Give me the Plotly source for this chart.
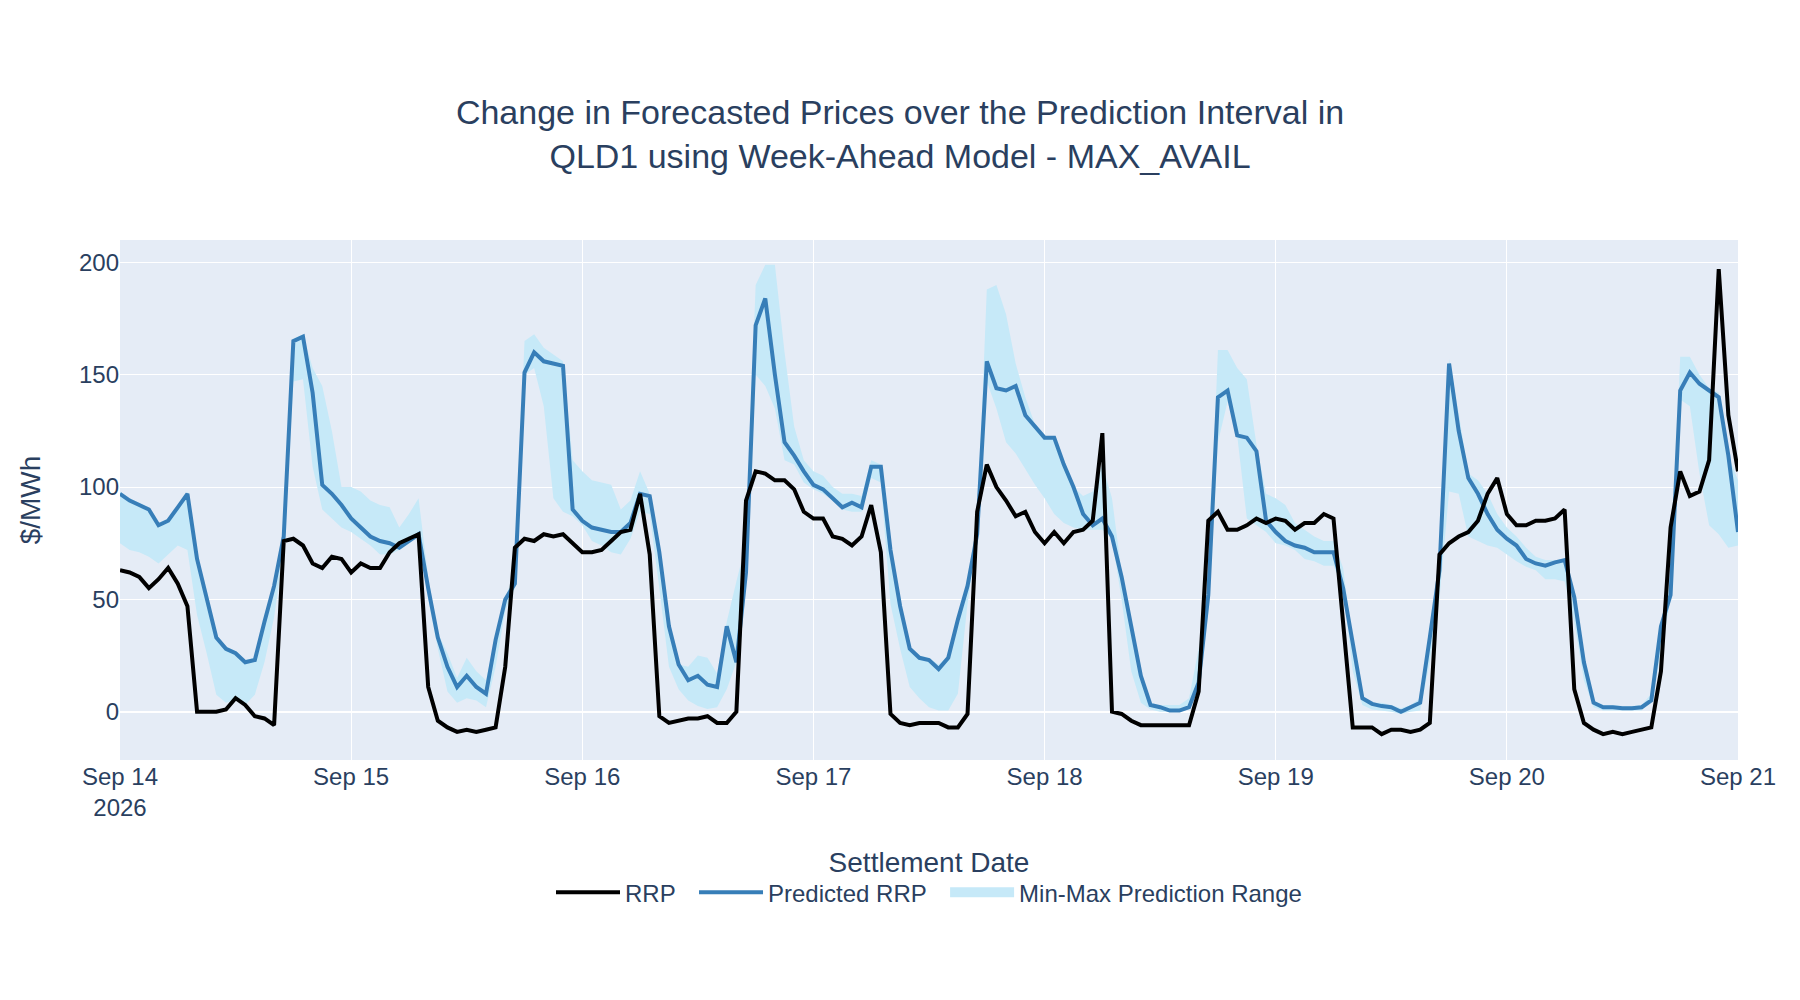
import plotly.graph_objects as go
import pandas as pd

# hourly settlement times, Sep 14 00:00 -> Sep 21 00:00
times = pd.date_range("2026-09-14 00:00", "2026-09-21 00:00", freq="h")

rrp = [
    63, 62, 60, 55, 59, 64, 57, 47, 0, 0, 0, 1, 6, 3, -2, -3, -6, 76, 77, 74, 66, 64, 69, 68,
    62, 66, 64, 64, 71, 75, 77, 79, 11, -4, -7, -9, -8, -9, -8, -7, 20, 73, 77, 76, 79, 78, 79, 75,
    71, 71, 72, 76, 80, 81, 97, 70, -2, -5, -4, -3, -3, -2, -5, -5, 0, 94, 107, 106, 103, 103, 99, 89,
    86, 86, 78, 77, 74, 78, 92, 71, -1, -5, -6, -5, -5, -5, -7, -7, -1, 89, 110, 100, 94, 87, 89, 80,
    75, 80, 75, 80, 81, 85, 124, 0, -1, -4, -6, -6, -6, -6, -6, -6, 9, 85, 89, 81, 81, 83, 86, 84,
    86, 85, 81, 84, 84, 88, 86, 38, -7, -7, -7, -10, -8, -8, -9, -8, -5, 70, 75, 78, 80, 85, 97, 104,
    88, 83, 83, 85, 85, 86, 90, 10, -5, -8, -10, -9, -10, -9, -8, -7, 18, 82, 107, 96, 98, 112, 197, 132,
    107,
]

predicted_rrp = [
    97, 94, 92, 90, 83, 85, 91, 97, 68, 50, 33, 28, 26, 22, 23, 40, 56, 78, 165, 167, 142, 101, 97, 92,
    86, 82, 78, 76, 75, 73, 76, 79, 55, 33, 20, 11, 16, 11, 8, 32, 50, 57, 151, 160, 156, 155, 154, 90,
    85, 82, 81, 80, 80, 84, 97, 96, 71, 38, 21, 14, 16, 12, 11, 38, 22, 62, 172, 184, 150, 120, 114, 107,
    101, 99, 95, 91, 93, 91, 109, 109, 72, 47, 28, 24, 23, 19, 24, 41, 56, 79, 156, 144, 143, 145, 132, 127,
    122, 122, 110, 100, 88, 83, 86, 78, 60, 38, 16, 3, 2, 0.5, 0.5, 2, 13, 52, 140, 143, 123, 122, 116, 85,
    80, 76, 74, 73, 71, 71, 71, 55, 30, 6, 3.5, 2.5, 2, 0, 2, 4, 33, 63, 155, 125, 104, 97, 88, 81,
    77, 74, 68, 66, 65, 66.5, 67.5, 51, 22, 4, 2, 2, 1.5, 1.5, 2, 5, 38, 52, 143, 151, 146, 143, 140, 114,
    80,
]

range_max = [
    98, 95, 93, 91, 84, 86, 92, 98, 69, 51, 34, 29, 27, 23, 24, 41, 57, 79, 166, 168, 153, 145, 125, 100,
    100, 98, 94, 92, 91, 82, 88, 95, 60, 35, 26, 15, 24, 18, 14, 33, 51, 62, 165, 168, 162, 159, 156, 112,
    107, 103, 102, 101, 90, 94, 107, 97, 74, 40, 21, 20, 25, 24, 17, 40, 58, 75, 190, 199, 199, 160, 127, 112,
    107, 105, 100, 97, 97, 96, 112, 110, 77, 48, 29, 25, 24, 21, 25, 41, 57, 80, 188, 190, 177, 155, 140, 128,
    122, 122, 110, 100, 96, 98, 110, 95, 62, 38, 16, 4, 3, 3, 3, 6, 28, 54, 161, 161, 153, 148, 119, 97,
    95, 92, 84, 81, 78, 76, 76, 64, 30, 7, 4, 4, 3, 1.5, 3, 6, 36, 65, 157, 133, 106, 103, 97, 88,
    82, 78, 73, 69, 67.5, 67.5, 67.5, 53, 24, 5, 3, 3, 2.5, 2.5, 3, 8, 40, 60, 158, 158, 150, 144, 142, 114,
    103,
]

range_min = [
    75, 72, 71, 69, 66, 70, 74, 72, 43, 26, 7.5, 4, 5, 3, 7.5, 22, 42, 72, 147, 148, 109, 90, 86, 82,
    80, 77, 74, 70, 70, 72, 75, 78, 50, 28, 9, 4, 6, 5, 2, 20, 45, 55, 150, 153, 136, 95, 89, 87,
    83, 76, 74, 71, 70, 77, 89, 88, 55, 20, 10, 5, 2.5, 1.2, 2, 10, 22, 58, 150, 145, 135, 112, 110, 102,
    99, 97, 94, 90, 89, 89, 104, 102, 48, 28, 11, 6, 2, 0.5, 0.5, 8, 48, 77, 147, 135, 120, 115, 108, 101,
    95, 88, 84, 82, 81, 81, 81, 77, 50, 18, 4, 1, 0, 0, 0, 1, 12, 44, 120, 138, 123, 86, 83, 80,
    75, 74, 72, 68, 67, 65, 65, 55, 18, 3, 1, 0.5, 0, -1, 0, 0.5, 22, 50, 98, 97, 78, 76, 74, 73,
    70, 67, 64.5, 63, 59, 59, 58, 40, 14, 2, 0.5, 0.5, 0.5, 0.5, 0.5, 5, 26, 50, 139, 136, 106, 83, 79, 73,
    74,
]

BAND = '#c6e9f8'
GAP = '\u00a0\u00a0'  # a bit of extra room between legend entries

fig = go.Figure()

# min-max band first so the lines sit on top of it
fig.add_trace(go.Scatter(
    x=times, y=range_min,
    mode='lines', line=dict(width=0, color=BAND),
    showlegend=False, hoverinfo='skip'
))
fig.add_trace(go.Scatter(
    x=times, y=range_max,
    mode='lines', line=dict(width=0, color=BAND),
    fill='tonexty', fillcolor=BAND,
    name='Min-Max Prediction Range', showlegend=False
))
# legend entry for the band (a wide swatch, like the original)
fig.add_trace(go.Scatter(
    x=[None], y=[None],
    mode='lines', line=dict(width=12, color=BAND),
    name='Min-Max Prediction Range'
))

fig.add_trace(go.Scatter(
    x=times, y=predicted_rrp,
    mode='lines', name='Predicted RRP' + GAP,
    line=dict(color='#377eb8', width=4)
))

fig.add_trace(go.Scatter(
    x=times, y=rrp,
    mode='lines', name='RRP' + GAP,
    line=dict(color='black', width=4)
))

fig.update_layout(
    title=dict(
        text="Change in Forecasted Prices over the Prediction Interval in<br>"
             "QLD1 using Week-Ahead Model - MAX_AVAIL",
        x=0.5
    ),
    font=dict(family="Liberation Sans, Arial, sans-serif", size=24),
    xaxis=dict(
        title=dict(text="Settlement Date", font=dict(size=28), standoff=32),
        range=[times[0], times[-1]]
    ),
    yaxis=dict(
        title=dict(text="$/MWh", font=dict(size=28), standoff=30),
        range=[-21.5, 210]
    ),
    template="plotly",
    width=1784,
    height=984,
    margin=dict(l=112, r=54, t=232, b=232),
    legend=dict(orientation="h", x=0.5, xanchor="center", y=-0.212, yanchor="top",
                traceorder="reversed", itemwidth=64)
)

fig.write_html("out.html")
